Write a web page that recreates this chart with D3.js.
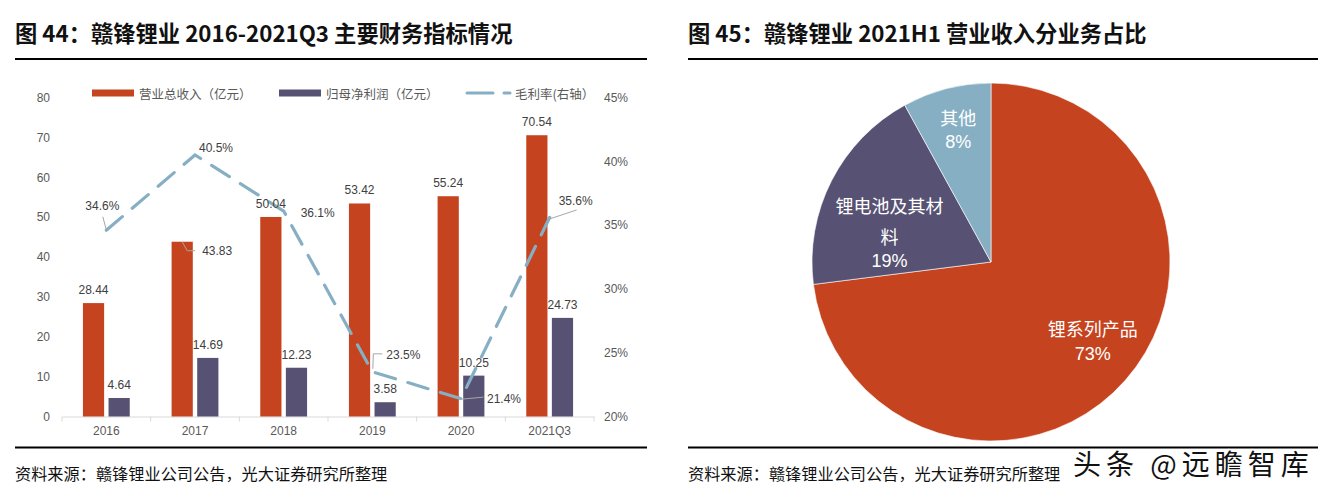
<!DOCTYPE html>
<html>
<head>
<meta charset="utf-8">
<script src="https://cdn.jsdelivr.net/npm/d3@7"></script>
<style>
  html, body { margin: 0; padding: 0; background: #ffffff; }
  svg { display: block; }
</style>
</head>
<body>
<svg id="chart" width="1329" height="495"></svg>
<script>
// ---------------- DATA ----------------
const categories = ["2016", "2017", "2018", "2019", "2020", "2021Q3"];
const revenue = [28.44, 43.83, 50.04, 53.42, 55.24, 70.54];      // 营业总收入（亿元）
const netProfit = [4.64, 14.69, 12.23, 3.58, 10.25, 24.73];      // 归母净利润（亿元）
const grossMargin = [0.346, 0.405, 0.361, 0.235, 0.214, 0.356];  // 毛利率(右轴)
const leftTicks = [0, 10, 20, 30, 40, 50, 60, 70, 80];
const rightTicks = [0.20, 0.25, 0.30, 0.35, 0.40, 0.45];
const seriesNames = ["营业总收入（亿元）", "归母净利润（亿元）", "毛利率(右轴）"];

const pieNames = ["锂系列产品", "锂电池及其材料", "其他"];
const pieValues = [73, 19, 8];
const pieLabelLines = [["锂系列产品", "73%"], ["锂电池及其材", "料", "19%"], ["其他", "8%"]];

const titleLeft = "图 44：赣锋锂业 2016-2021Q3 主要财务指标情况";
const titleRight = "图 45：赣锋锂业 2021H1 营业收入分业务占比";
const sourceText = "资料来源：赣锋锂业公司公告，光大证券研究所整理";
const watermark = "头条 @远瞻智库";

// ---------------- STYLE ----------------
const RED = "#C5441F", PURPLE = "#575273", BLUE = "#86AFC4";
const AXIS_TEXT = "#595959", LABEL_TEXT = "#404040";
const NUM_FONT = "'Liberation Sans', Arial, 'Noto Sans CJK SC', sans-serif";
const CJK_FONT = "'Noto Sans CJK SC', 'Liberation Sans', sans-serif";

const svg = d3.select("#chart");

// ---------- panel frames (titles, rules, sources) ----------
function frame(x0, x1, title) {
  svg.append("text").attr("x", x0 - 1).attr("y", 32).attr("dominant-baseline", "central")
    .attr("font-family", CJK_FONT).attr("font-weight", 700).attr("font-size", 22.3)
    .attr("fill", "#111").text(title);
  svg.append("line").attr("x1", x0 - 1).attr("x2", x1).attr("y1", 59).attr("y2", 59)
    .attr("stroke", "#000").attr("stroke-width", 2.2);
  svg.append("line").attr("x1", x0 - 1).attr("x2", x1).attr("y1", 447.5).attr("y2", 447.5)
    .attr("stroke", "#000").attr("stroke-width", 2.2);
  svg.append("text").attr("x", x0 - 1).attr("y", 473).attr("dominant-baseline", "central")
    .attr("font-family", CJK_FONT).attr("font-size", 16.2).attr("fill", "#111").text(sourceText);
}
frame(16, 647, titleLeft);
frame(689, 1318, titleRight);

// ---------------- LEFT CHART ----------------
const x0 = d3.scaleBand().domain(categories).range([62, 594]).paddingInner(0.472).paddingOuter(0.236);
const x1 = d3.scaleBand().domain([0, 1]).range([0, x0.bandwidth()]).paddingInner(0.172);
const yL = d3.scaleLinear().domain([0, 80]).range([416.5, 97.5]);
const yR = d3.scaleLinear().domain([0.20, 0.45]).range([416.5, 97.5]);
const cx = c => x0(c) + x0.bandwidth() / 2;

// left axis
const axL = svg.append("g").attr("transform", "translate(50,0)")
  .call(d3.axisLeft(yL).tickValues(leftTicks).tickSize(0).tickPadding(0));
axL.select(".domain").remove();
axL.selectAll("text").attr("font-family", NUM_FONT).attr("font-size", 12).attr("fill", AXIS_TEXT);

// right axis
const axR = svg.append("g").attr("transform", "translate(604,0)")
  .call(d3.axisRight(yR).tickValues(rightTicks).tickSize(0).tickPadding(0).tickFormat(d3.format(".0%")));
axR.select(".domain").remove();
axR.selectAll("text").attr("font-family", NUM_FONT).attr("font-size", 12).attr("fill", AXIS_TEXT);

// bottom axis
const axB = svg.append("g").attr("transform", `translate(0,${yL(0)})`)
  .call(d3.axisBottom(x0).tickSize(0).tickPadding(10));
axB.select(".domain").attr("stroke", "#d9d9d9");
axB.selectAll("text").attr("font-family", NUM_FONT).attr("font-size", 12).attr("fill", AXIS_TEXT);
const bounds = d3.range(categories.length + 1).map(i => x0.range()[0] + i * x0.step());
svg.append("g").selectAll("line").data(bounds).join("line")
  .attr("x1", d => d).attr("x2", d => d).attr("y1", yL(0)).attr("y2", yL(0) + 5)
  .attr("stroke", "#d9d9d9");

// bars
const barSeries = [revenue, netProfit];
const barColors = [RED, PURPLE];
barSeries.forEach((vals, s) => {
  svg.append("g").selectAll("rect").data(categories).join("rect")
    .attr("x", c => x0(c) + x1(s)).attr("width", x1.bandwidth())
    .attr("y", (c, i) => yL(vals[i])).attr("height", (c, i) => yL(0) - yL(vals[i]))
    .attr("fill", barColors[s]);
});

// gross margin line
const line = d3.line().x((d, i) => cx(categories[i])).y(d => yR(d));
svg.append("path").datum(grossMargin).attr("d", line)
  .attr("fill", "none").attr("stroke", BLUE).attr("stroke-width", 3.2)
  .attr("stroke-dasharray", "21,13").attr("stroke-linecap", "round");

// bar labels
const barLabelShift = [[null, [35, 9], null, null, null, null], [null, null, null, null, null, null]];
barSeries.forEach((vals, s) => {
  vals.forEach((v, i) => {
    const bx = x0(categories[i]) + x1(s) + x1.bandwidth() / 2;
    const by = yL(v);
    const sh = barLabelShift[s][i];
    if (sh) {
      svg.append("polyline")
        .attr("points", `${bx},${by} ${bx + 5},${by + sh[1]} ${bx + 13},${by + sh[1]}`)
        .attr("fill", "none").attr("stroke", "#a6a6a6").attr("stroke-width", 1);
      svg.append("text").attr("x", bx + sh[0]).attr("y", by + sh[1])
        .attr("text-anchor", "middle").attr("dominant-baseline", "central")
        .attr("font-family", NUM_FONT).attr("font-size", 12).attr("fill", LABEL_TEXT)
        .text(v.toFixed(2));
    } else {
      svg.append("text").attr("x", bx).attr("y", by - 13)
        .attr("text-anchor", "middle").attr("dominant-baseline", "central")
        .attr("font-family", NUM_FONT).attr("font-size", 12).attr("fill", LABEL_TEXT)
        .text(v.toFixed(2));
    }
  });
});

// line labels (offset from point: label center dx, dy; leader polyline relative points)
const lineLabelLayout = [
  { dx: -4, dy: -24, leader: [[-3.5, -13.5], [0, 0]] },
  { dx: 21, dy: -7, leader: null },
  { dx: 34, dy: 2, leader: null },
  { dx: 31, dy: -17, leader: [[0.5, -3], [1, -18], [10, -18]] },
  { dx: 43, dy: 0, leader: [[1, 0.5], [22.5, -1.5]] },
  { dx: 26, dy: -16, leader: [[27, -7.5], [0, 1.5]] }
];
grossMargin.forEach((v, i) => {
  const px = cx(categories[i]), py = yR(v);
  const L = lineLabelLayout[i];
  if (L.leader) {
    svg.append("polyline").attr("points", L.leader.map(p => `${px + p[0]},${py + p[1]}`).join(" "))
      .attr("fill", "none").attr("stroke", "#a6a6a6").attr("stroke-width", 1);
  }
  svg.append("text").attr("x", px + L.dx).attr("y", py + L.dy)
    .attr("text-anchor", "middle").attr("dominant-baseline", "central")
    .attr("font-family", NUM_FONT).attr("font-size", 12).attr("fill", LABEL_TEXT)
    .text(d3.format(".1%")(v));
});

// legend
const legend = svg.append("g").attr("transform", "translate(0,93)");
const legendX = [92, 279, 466];
[0, 1].forEach(s => {
  legend.append("rect").attr("x", legendX[s]).attr("y", -3.5).attr("width", 42).attr("height", 7)
    .attr("fill", barColors[s]);
});
legend.append("line").attr("x1", 467).attr("x2", 493).attr("y1", 0).attr("y2", 0)
  .attr("stroke", BLUE).attr("stroke-width", 3).attr("stroke-linecap", "round");
legend.append("line").attr("x1", 504).attr("x2", 510).attr("y1", 0).attr("y2", 0)
  .attr("stroke", BLUE).attr("stroke-width", 3).attr("stroke-linecap", "round");
seriesNames.forEach((n, s) => {
  legend.append("text").attr("x", legendX[s] + (s === 2 ? 49 : 47)).attr("y", 0)
    .attr("dominant-baseline", "central").attr("font-family", CJK_FONT)
    .attr("font-size", 12.5).attr("fill", AXIS_TEXT).text(n);
});

// ---------------- RIGHT CHART (PIE) ----------------
const pieCx = 991, pieCy = 262, pieR = 179;
const pie = d3.pie().sort(null).value(d => d);
const arcs = pie(pieValues);
const arc = d3.arc().innerRadius(0).outerRadius(pieR);
const pieColors = [RED, PURPLE, BLUE];
const pg = svg.append("g").attr("transform", `translate(${pieCx},${pieCy})`);
pg.selectAll("path").data(arcs).join("path").attr("d", arc)
  .attr("fill", (d, i) => pieColors[i]).attr("stroke", "#ffffff").attr("stroke-width", 0.6);

// label placement: angle shift (radians) relative to slice mid, radius fraction, line offsets
const pieLabelLayout = [
  { dA: -0.063, k: 0.72, lines: [-13, 13] },
  { dA: -0.19, k: 0.59, lines: [-28, 3, 28.5] },
  { dA: 0.01, k: 0.765, lines: [-12, 12.5] }
];
arcs.forEach((a, i) => {
  const L = pieLabelLayout[i];
  const ang = (a.startAngle + a.endAngle) / 2 + L.dA;
  const lx = Math.sin(ang) * pieR * L.k, ly = -Math.cos(ang) * pieR * L.k;
  pieLabelLines[i].forEach((t, j) => {
    pg.append("text").attr("x", lx).attr("y", ly + L.lines[j])
      .attr("text-anchor", "middle").attr("dominant-baseline", "central")
      .attr("font-family", /%/.test(t) ? NUM_FONT : CJK_FONT)
      .attr("font-size", 18).attr("fill", "#ffffff").text(t);
  });
});

// watermark
svg.append("text").attr("x", 1073).attr("y", 463).attr("dominant-baseline", "central")
  .attr("font-family", CJK_FONT).attr("font-size", 28).attr("letter-spacing", 5)
  .attr("fill", "#111").attr("stroke", "#ffffff").attr("stroke-width", 3)
  .attr("paint-order", "stroke").text(watermark);
</script>
</body>
</html>
